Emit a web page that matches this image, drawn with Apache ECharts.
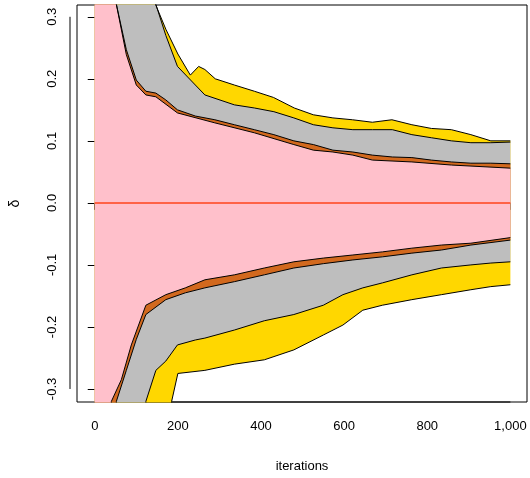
<!DOCTYPE html>
<html><head><meta charset="utf-8">
<script src="https://cdn.jsdelivr.net/npm/echarts@6/dist/echarts.min.js"></script>
<style>html,body{margin:0;padding:0;background:#fff}#c{width:530px;height:478px}</style>
</head><body><div id="c"></div>
<script>
const xTicks = [0,200,400,600,800,1000];
const yTicks = [-0.3,-0.2,-0.1,0,0.1,0.2,0.3];
const yellowUpper = [[0,0.5],[140,0.33],[171,0.28],[200,0.24],[230,0.206],[250,0.22],[265,0.215],[290,0.20],[336,0.19],[384,0.18],[430,0.17],[480,0.153],[526,0.142],[573,0.137],[620,0.134],[668,0.13],[715,0.134],[763,0.126],[810,0.12],[858,0.118],[905,0.11],[953,0.10],[1000,0.10]];
const grayUpper = [[0,0.5],[100,0.5],[147,0.32],[171,0.27],[199,0.22],[265,0.174],[336,0.158],[384,0.153],[431,0.147],[479,0.137],[526,0.126],[573,0.121],[621,0.118],[668,0.118],[716,0.118],[763,0.11],[810,0.105],[858,0.10],[905,0.097],[953,0.097],[1000,0.098]];
const orangeUpper = [[0,0.5],[45,0.5],[52,0.32],[76,0.247],[100,0.198],[123,0.18],[147,0.177],[171,0.166],[199,0.15],[242,0.14],[289,0.134],[336,0.126],[384,0.118],[431,0.11],[479,0.10],[526,0.094],[573,0.085],[621,0.082],[668,0.077],[716,0.074],[763,0.073],[810,0.069],[858,0.066],[905,0.064],[953,0.064],[1000,0.063]];
const pinkUpper = [[0,0.5],[45,0.5],[52,0.32],[76,0.239],[100,0.190],[123,0.174],[147,0.171],[199,0.145],[289,0.129],[384,0.113],[479,0.094],[526,0.085],[573,0.082],[621,0.077],[668,0.069],[763,0.066],[858,0.061],[1000,0.056]];
const pinkLower = [[0,-0.5],[35,-0.5],[40,-0.32],[64,-0.285],[88,-0.229],[123,-0.165],[171,-0.148],[218,-0.137],[265,-0.124],[336,-0.116],[408,-0.105],[479,-0.095],[550,-0.089],[621,-0.084],[692,-0.079],[763,-0.073],[834,-0.068],[905,-0.065],[1000,-0.056]];
const orangeLower = [[0,-0.5],[48,-0.5],[52,-0.32],[76,-0.27],[100,-0.22],[123,-0.18],[171,-0.156],[218,-0.145],[265,-0.137],[336,-0.127],[408,-0.116],[479,-0.105],[550,-0.098],[621,-0.092],[692,-0.087],[763,-0.081],[834,-0.076],[905,-0.068],[1000,-0.06]];
const grayLower = [[0,-0.5],[115,-0.5],[123,-0.32],[147,-0.27],[171,-0.255],[199,-0.229],[242,-0.221],[265,-0.218],[336,-0.205],[408,-0.19],[479,-0.18],[550,-0.165],[597,-0.148],[645,-0.137],[692,-0.129],[763,-0.116],[834,-0.105],[905,-0.1],[953,-0.097],[1000,-0.095]];
const yellowLower = [[0,-0.5],[171,-0.5],[185,-0.32],[200,-0.275],[265,-0.27],[336,-0.26],[408,-0.253],[479,-0.237],[550,-0.213],[597,-0.197],[645,-0.173],[692,-0.165],[763,-0.156],[834,-0.148],[905,-0.14],[953,-0.135],[1000,-0.132]];
const zeroLine = [[0,0],[1000,0]];

const F = 'Liberation Sans';
function band(data, color){
  return {type:'line', data, symbol:'none', clip:true, silent:true,
    lineStyle:{color:'#000', width:1}, areaStyle:{color, opacity:1, origin:0}};
}
const chart = echarts.init(document.getElementById('c'));
chart.setOption({
  animation:false,
  grid:{left:70,right:3,top:5,bottom:76,show:true,borderColor:'#000',borderWidth:1},
  xAxis:{type:'value',min:-42.7,max:1040,
    axisLine:{show:false},splitLine:{show:false},
    axisTick:{show:true,length:7,customValues:xTicks,lineStyle:{color:'#000'}},
    axisLabel:{customValues:xTicks,color:'#000',fontFamily:F,fontSize:13,margin:18},
    name:'iterations',nameLocation:'middle',nameGap:58,nameTextStyle:{color:'#000',fontFamily:F,fontSize:13}},
  yAxis:{type:'value',min:-0.321,max:0.319,
    axisLine:{show:false},splitLine:{show:false},
    axisTick:{show:true,length:7,customValues:yTicks,lineStyle:{color:'#000'}},
    axisLabel:{customValues:yTicks,rotate:90,color:'#000',fontFamily:F,fontSize:13,margin:18,
      formatter:v=>v.toFixed(1)},
    name:'δ',nameLocation:'middle',nameGap:55,nameRotate:90,nameTextStyle:{color:'#000',fontFamily:F,fontSize:14}},
  series:[
    band(yellowUpper,'#FFD700'), band(yellowLower,'#FFD700'),
    band(grayUpper,'#BEBEBE'), band(grayLower,'#BEBEBE'),
    band(orangeUpper,'#D2691E'), band(orangeLower,'#D2691E'),
    band(pinkUpper,'#FFC0CB'), band(pinkLower,'#FFC0CB'),
    {type:'line',data:zeroLine,symbol:'none',silent:true,lineStyle:{color:'#FF6347',width:2}}
  ]
});
// R-style detached axis lines spanning the tick range
const a = chart.convertToPixel({gridIndex:0},[0,-0.3]);
const b = chart.convertToPixel({gridIndex:0},[1000,0.3]);
chart.setOption({graphic:[
  {type:'line',shape:{x1:a[0],y1:402,x2:b[0],y2:402},style:{stroke:'#000',lineWidth:1}},
  {type:'line',shape:{x1:70,y1:a[1],x2:70,y2:b[1]},style:{stroke:'#000',lineWidth:1}}
]});
</script></body></html>
